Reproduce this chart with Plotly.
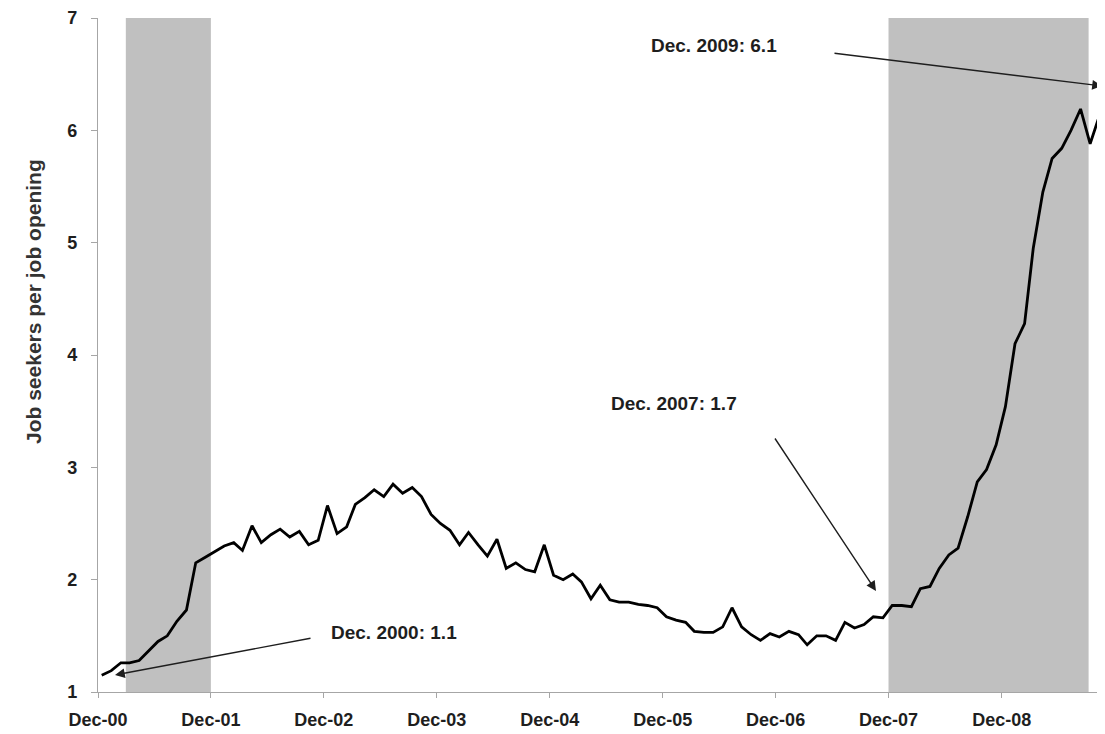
import pandas as pd
import plotly.graph_objects as go

# Monthly ratio of job seekers to job openings, starting Dec 2000
ratio = [
    1.15, 1.19, 1.26, 1.26, 1.28, 1.36, 1.45, 1.50, 1.63, 1.73, 2.15, 2.20,
    2.25, 2.30, 2.33, 2.26, 2.48, 2.33, 2.40, 2.45, 2.38, 2.43, 2.31, 2.35,
    2.66, 2.41, 2.47, 2.67, 2.73, 2.80, 2.74, 2.85, 2.77, 2.82, 2.74, 2.58,
    2.50, 2.44, 2.31, 2.42, 2.31, 2.21, 2.36, 2.10, 2.15, 2.09, 2.07, 2.31,
    2.04, 2.00, 2.05, 1.98, 1.83, 1.95, 1.82, 1.80, 1.80, 1.78, 1.77, 1.75,
    1.67, 1.64, 1.62, 1.54, 1.53, 1.53, 1.58, 1.75, 1.58, 1.51, 1.46, 1.52,
    1.49, 1.54, 1.51, 1.42, 1.50, 1.50, 1.46, 1.62, 1.57, 1.60, 1.67, 1.66,
    1.77, 1.77, 1.76, 1.92, 1.94, 2.10, 2.22, 2.28, 2.56, 2.87, 2.98, 3.20,
    3.54, 4.10, 4.28, 4.95, 5.45, 5.75, 5.84, 6.00, 6.19, 5.88, 6.13, 6.35,
]
start_month = "2000-12-01"
dates = pd.date_range(start=start_month, periods=len(ratio), freq="MS") + pd.Timedelta(days=12)

tick_dates = ["2000-12-01", "2001-12-01", "2002-12-01", "2003-12-01", "2004-12-01",
              "2005-12-01", "2006-12-01", "2007-12-01", "2008-12-01"]
tick_labels = ["Dec-00", "Dec-01", "Dec-02", "Dec-03", "Dec-04",
               "Dec-05", "Dec-06", "Dec-07", "Dec-08"]

recessions = [("2001-03-01", "2001-12-01"), ("2007-12-01", "2009-09-08")]

y_title = "Job seekers per job opening"
callout_texts = ["Dec. 2009: 6.1", "Dec. 2007: 1.7", "Dec. 2000: 1.1"]

# layout geometry (pixels); the page body adds an 8px offset
OFF = 8
W, H = 1097, 726
L, R, T, B = 90, 0, 10, 42
PW, PH = W - L - R, H - T - B


def px(x):
    return (x - OFF - L) / PW


def py(y):
    return (H - B - (y - OFF)) / PH


fig = go.Figure()
fig.add_trace(go.Scatter(x=dates, y=ratio, mode="lines",
                         line=dict(color="#000000", width=2.8),
                         hoverinfo="skip", showlegend=False))

for x0, x1 in recessions:
    fig.add_shape(type="rect", xref="x", yref="paper", x0=x0, x1=x1, y0=0, y1=1,
                  fillcolor="#c0c0c0", line=dict(width=0), layer="below")

font_b = dict(family="Liberation Sans, Arial, sans-serif", size=18, color="#1e1e1e", weight="bold")

annotations = []
# callout texts (pixel centers)
text_pos = [(714, 46), (674, 403), (394, 632)]
for t, (tx, ty) in zip(callout_texts, text_pos):
    annotations.append(dict(text=t, xref="paper", yref="paper", x=px(tx), y=py(ty),
                            xanchor="center", yanchor="middle", showarrow=False,
                            font=dict(font_b, size=19)))
# arrows: head (x, y) and tail (x, y) in pixels
arrows = [((1102, 86), (833, 53)), ((876, 591), (774, 437)), ((115, 675), (312, 638))]
for (hx, hy), (sx, sy) in arrows:
    annotations.append(dict(text="", xref="paper", yref="paper", x=px(hx), y=py(hy),
                            axref="pixel", ayref="pixel", ax=sx - hx, ay=sy - hy,
                            showarrow=True, arrowhead=2, arrowsize=1.4, arrowwidth=1.4,
                            arrowcolor="#1e1e1e", standoff=0, startstandoff=0))
annotations.append(dict(text=y_title, xref="paper", yref="paper", x=px(33), y=py(302),
                        textangle=-90, showarrow=False, xanchor="center", yanchor="middle",
                        font=dict(font_b, size=21, color="#333333")))

fig.update_layout(
    width=W, height=H,
    margin=dict(l=L, r=R, t=T, b=B, pad=0),
    paper_bgcolor="white", plot_bgcolor="white",
    annotations=annotations,
    xaxis=dict(type="date", range=["2000-12-01", "2009-10-31"],
               tickmode="array", tickvals=tick_dates, ticktext=tick_labels,
               showgrid=False, zeroline=False, showline=True, linecolor="#a6a6a6", linewidth=1.2,
               ticks="outside", ticklen=5, tickcolor="#a6a6a6", tickfont=font_b,
               ticklabelstandoff=6),
    yaxis=dict(range=[1, 7], dtick=1, showgrid=False, zeroline=False,
               showline=True, linecolor="#a6a6a6", linewidth=1.2,
               ticks="outside", ticklen=6, tickcolor="#a6a6a6", tickfont=font_b,
               ticklabelstandoff=10),
)

fig.write_html("out.html")
